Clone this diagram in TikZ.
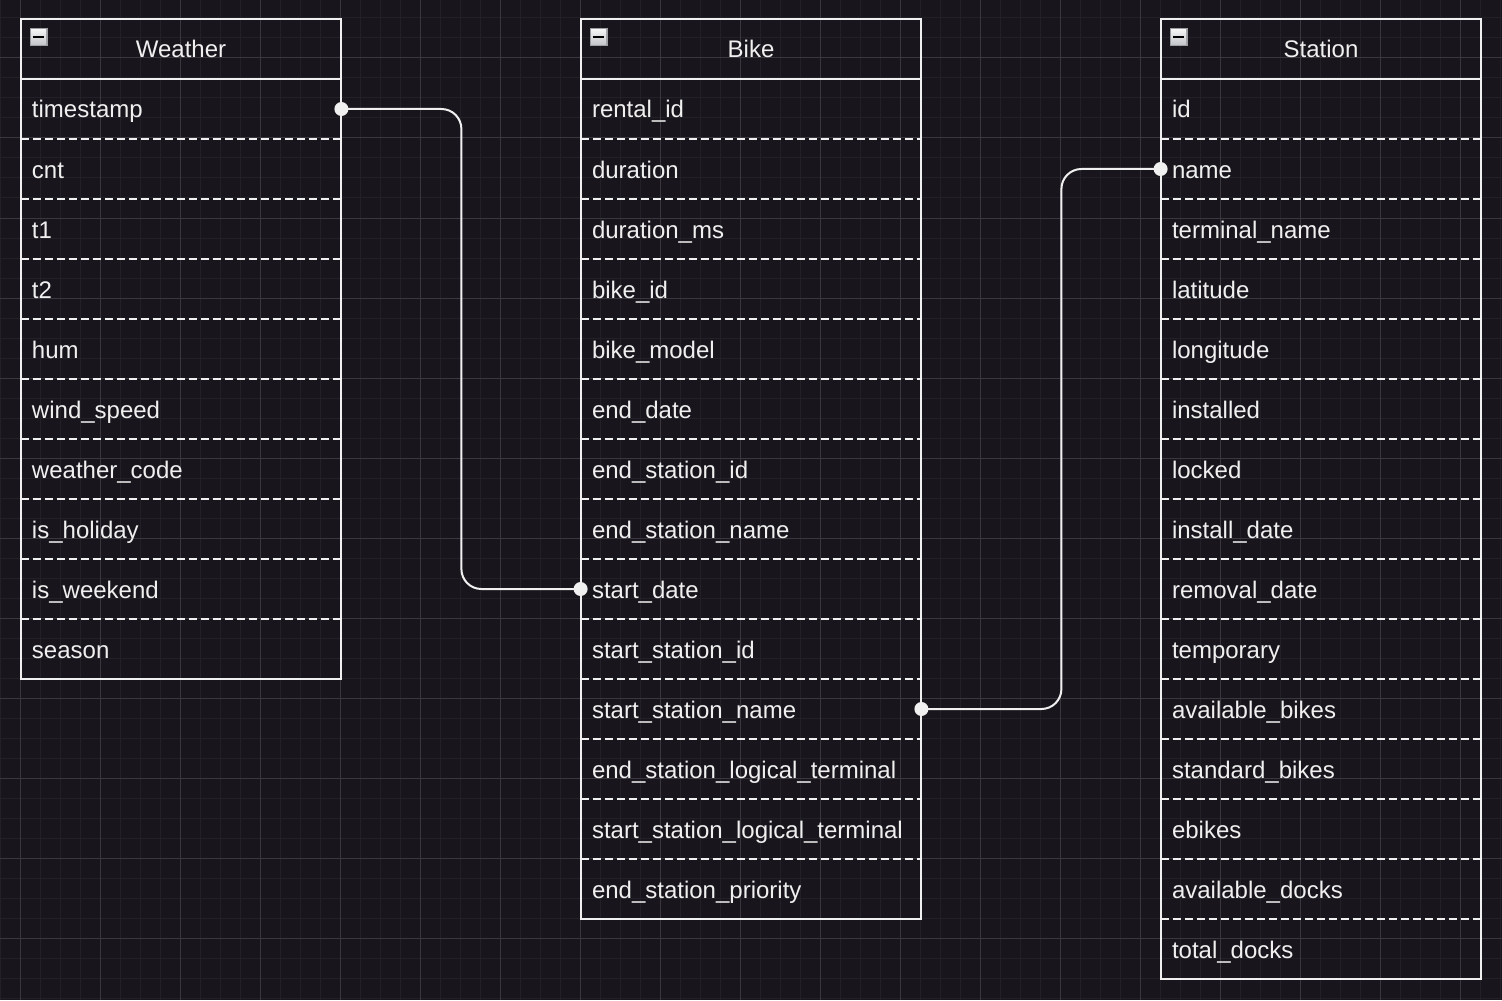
\documentclass[tikz,border=0pt]{standalone}
\usepackage{fontspec}
\setmainfont{Liberation Sans}
\definecolor{bg}{HTML}{18161C}
\definecolor{gridminor}{HTML}{232128}
\definecolor{gridmajor}{HTML}{3A383E}
\definecolor{ink}{HTML}{F0F0F0}
\definecolor{iconedge}{HTML}{9C9EA2}
\definecolor{icontop}{HTML}{F6F6F6}
\definecolor{iconbot}{HTML}{C4C6CA}

% One entity table: #1 tag, #2 centre x (px), #3 width (pt), #4 text width (pt),
% #5 title, #6 number of fields, #7 field list
\newcommand{\ertable}[7]{%
  \node[headcell, minimum width=#3] (#1-h) at (#2,49) {#5};
  \foreach \f [count=\i] in {#7} {
    \node[rowcell, text width=#4] (#1-\i) at (#2,49+60*\i) {\f};
    \ifnum\i>1
      \draw[sepline] (#1-\i.north west) -- (#1-\i.north east);
    \fi
  }
  \draw[frame] (#1-h.south west) -- (#1-h.south east);
  \draw[frame] (#1-h.north west) rectangle (#1-#6.south east);
  % collapse button in the header
  \begin{scope}[shift={(#1-h.north west)}]
    \fill[iconedge] (9,9) rectangle (27,27);
    \shade[top color=icontop, bottom color=iconbot] (10.5,10.5) rectangle (25.5,25.5);
    \fill[black] (12.3,17) rectangle (23.7,19.6);
  \end{scope}
}

\begin{document}
\begin{tikzpicture}[x=0.5pt,y=-0.5pt,
  every node/.style={font=\fontsize{12pt}{14pt}\selectfont, text=ink},
  minorgrid/.style={draw=gridminor, line width=0.5pt},
  majorgrid/.style={draw=gridmajor, line width=0.5pt},
  frame/.style={draw=ink, line width=1pt},
  sepline/.style={draw=ink, line width=1pt, dash pattern=on 4pt off 2pt},
  headcell/.style={rectangle, minimum height=30pt, inner sep=0pt,
    text height=9.5pt, text depth=0.5pt},
  rowcell/.style={rectangle, minimum height=30pt, inner xsep=5.5pt, inner ysep=0pt,
    align=left, text height=9.5pt, text depth=0.5pt},
  link/.style={draw=ink, line width=1pt, rounded corners=10pt},
  enddot/.style={fill=ink}]

% canvas and grid
\fill[bg] (0,0) rectangle (1502,1000);
\useasboundingbox (0,0) rectangle (1502,1000);
\foreach \x in {0,20,...,1500} \draw[minorgrid] (\x,0) -- (\x,1000);
\foreach \y in {18,38,...,998} \draw[minorgrid] (0,\y) -- (1502,\y);
\foreach \x in {20,100,...,1500} \draw[majorgrid] (\x,0) -- (\x,1000);
\foreach \y in {58,138,...,998} \draw[majorgrid] (0,\y) -- (1502,\y);

% tables
\ertable{weather}{181}{160pt}{149pt}{Weather}{10}{timestamp,cnt,t1,t2,hum,wind\_speed,weather\_code,is\_holiday,is\_weekend,season}
\ertable{bike}{751}{170pt}{159pt}{Bike}{14}{rental\_id,duration,duration\_ms,bike\_id,bike\_model,end\_date,end\_station\_id,end\_station\_name,start\_date,start\_station\_id,start\_station\_name,end\_station\_logical\_terminal,start\_station\_logical\_terminal,end\_station\_priority}
\ertable{station}{1321}{160pt}{149pt}{Station}{15}{id,name,terminal\_name,latitude,longitude,installed,locked,install\_date,removal\_date,temporary,available\_bikes,standard\_bikes,ebikes,available\_docks,total\_docks}

% relations
\draw[link] (weather-1.east) -- ++(120,0) |- (bike-9.west);
\draw[link] (bike-11.east) -- ++(140,0) |- (station-2.west);
\foreach \p in {weather-1.east, bike-9.west, bike-11.east, station-2.west}
  \fill[enddot] (\p) circle[radius=3.5pt];
\end{tikzpicture}
\end{document}
